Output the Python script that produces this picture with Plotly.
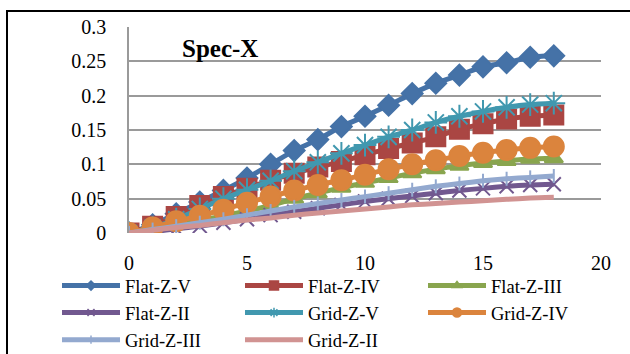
import plotly.graph_objects as go

x_vals = list(range(0, 19))

flat_z_v = [0, 0.012, 0.028, 0.045, 0.062, 0.080, 0.100, 0.120, 0.136, 0.155, 0.170, 0.186, 0.203, 0.218, 0.230, 0.242, 0.248, 0.256, 0.258]
flat_z_iv = [0, 0.010, 0.024, 0.040, 0.053, 0.065, 0.077, 0.087, 0.096, 0.104, 0.114, 0.123, 0.131, 0.140, 0.151, 0.159, 0.166, 0.170, 0.172]
flat_z_iii = [0, 0.005, 0.012, 0.018, 0.025, 0.032, 0.040, 0.050, 0.058, 0.066, 0.073, 0.080, 0.087, 0.093, 0.098, 0.102, 0.105, 0.108, 0.109]
flat_z_ii = [0, 0.002, 0.006, 0.010, 0.015, 0.020, 0.026, 0.031, 0.036, 0.041, 0.046, 0.050, 0.054, 0.058, 0.062, 0.065, 0.068, 0.070, 0.071]
grid_z_v = [0, 0.008, 0.020, 0.035, 0.050, 0.063, 0.076, 0.090, 0.103, 0.116, 0.128, 0.140, 0.150, 0.161, 0.170, 0.177, 0.183, 0.187, 0.189]
grid_z_iv = [0, 0.008, 0.017, 0.025, 0.034, 0.044, 0.053, 0.062, 0.070, 0.077, 0.085, 0.093, 0.100, 0.106, 0.112, 0.117, 0.121, 0.124, 0.126]
grid_z_iii = [0, 0.005, 0.010, 0.015, 0.020, 0.026, 0.032, 0.038, 0.043, 0.048, 0.053, 0.058, 0.063, 0.068, 0.072, 0.076, 0.079, 0.081, 0.083]
grid_z_ii = [0, 0.004, 0.008, 0.011, 0.015, 0.019, 0.022, 0.026, 0.029, 0.032, 0.035, 0.038, 0.041, 0.043, 0.045, 0.047, 0.049, 0.051, 0.052]

series_names = ["Flat-Z-V", "Flat-Z-IV", "Flat-Z-III", "Flat-Z-II",
                "Grid-Z-V", "Grid-Z-IV", "Grid-Z-III", "Grid-Z-II"]
series_values = [flat_z_v, flat_z_iv, flat_z_iii, flat_z_ii,
                 grid_z_v, grid_z_iv, grid_z_iii, grid_z_ii]
colors = ["#4572A7", "#AA4643", "#89A54E", "#71588F",
          "#4198AF", "#DB843D", "#93A9CF", "#D19392"]
symbols = ["diamond", "square", "triangle-up", "x-thin-open",
           "asterisk-open", "circle", "line-ns-open", None]
msizes = [16, 19, 16, 14, 19, 20, 10, 0]
legend_msizes = [7, 9, 8, 7, 8, 9, 6, 0]

fig = go.Figure()
for name, vals, c, s, ms in zip(series_names, series_values, colors, symbols, msizes):
    line = dict(color=c, width=5, shape="spline", smoothing=0.6)
    if s is None:
        fig.add_trace(go.Scatter(x=x_vals, y=vals, name=name, mode="lines",
                                 line=line, showlegend=False))
    else:
        fig.add_trace(go.Scatter(x=x_vals, y=vals, name=name, mode="lines+markers",
                                 line=line, showlegend=False,
                                 marker=dict(symbol=s, size=ms, color=c,
                                             line=dict(color=c, width=2))))

# legend entries with small symbols (as in the reference legend)
for name, c, s, lms in zip(series_names, colors, symbols, legend_msizes):
    if s is None:
        fig.add_trace(go.Scatter(x=[None], y=[None], name=name, mode="lines",
                                 line=dict(color=c, width=5)))
    else:
        fig.add_trace(go.Scatter(x=[None], y=[None], name=name, mode="lines+markers",
                                 line=dict(color=c, width=5),
                                 marker=dict(symbol=s, size=lms, color=c,
                                             line=dict(color=c, width=1.5))))

L, R, T, B = 129, 29, 27, 121
W, H = 630, 354
pw, ph = W - L - R, H - T - B

def px_to_paper_x(p):
    return (p - L) / pw

def px_to_paper_y(p):
    return (H - B - p) / ph

font_family = "Liberation Serif, DejaVu Serif, serif"

fig.update_layout(
    width=W, height=H,
    margin=dict(l=L, r=R, t=T, b=B, autoexpand=False),
    paper_bgcolor="white", plot_bgcolor="white",
    font=dict(family=font_family, size=19, color="#000000"),
    showlegend=True,
    legend=dict(orientation="h", x=px_to_paper_x(57), y=px_to_paper_y(267),
                xanchor="left", yanchor="top",
                entrywidth=110, entrywidthmode="pixels",
                font=dict(family=font_family, size=18.5),
                tracegroupgap=0, itemwidth=58,
                bgcolor="rgba(0,0,0,0)"),
    xaxis=dict(range=[0, 20], dtick=5, tick0=0, showgrid=False, zeroline=False,
               showline=False, ticks="outside", ticklen=12,
               tickcolor="rgba(0,0,0,0)", tickfont=dict(size=20)),
    yaxis=dict(range=[0, 0.3], dtick=0.05, tick0=0, showgrid=True,
               gridcolor="#9A9A9A", gridwidth=1.5, zeroline=False,
               showline=True, linecolor="#9A9A9A", linewidth=1.5,
               ticks="outside", ticklen=17, tickcolor="rgba(0,0,0,0)",
               tickfont=dict(size=20)),
    annotations=[dict(text="<b>Spec-X</b>", x=px_to_paper_x(180), y=px_to_paper_y(49),
                      xref="paper", yref="paper", xanchor="left", yanchor="middle",
                      showarrow=False, font=dict(family=font_family, size=25, color="#000"))],
    shapes=[dict(type="rect", xref="paper", yref="paper",
                 x0=px_to_paper_x(7), x1=px_to_paper_x(660),
                 y0=px_to_paper_y(380), y1=px_to_paper_y(11),
                 line=dict(color="black", width=2), fillcolor="rgba(0,0,0,0)", layer="below")],
)

fig.write_html("out.html")
